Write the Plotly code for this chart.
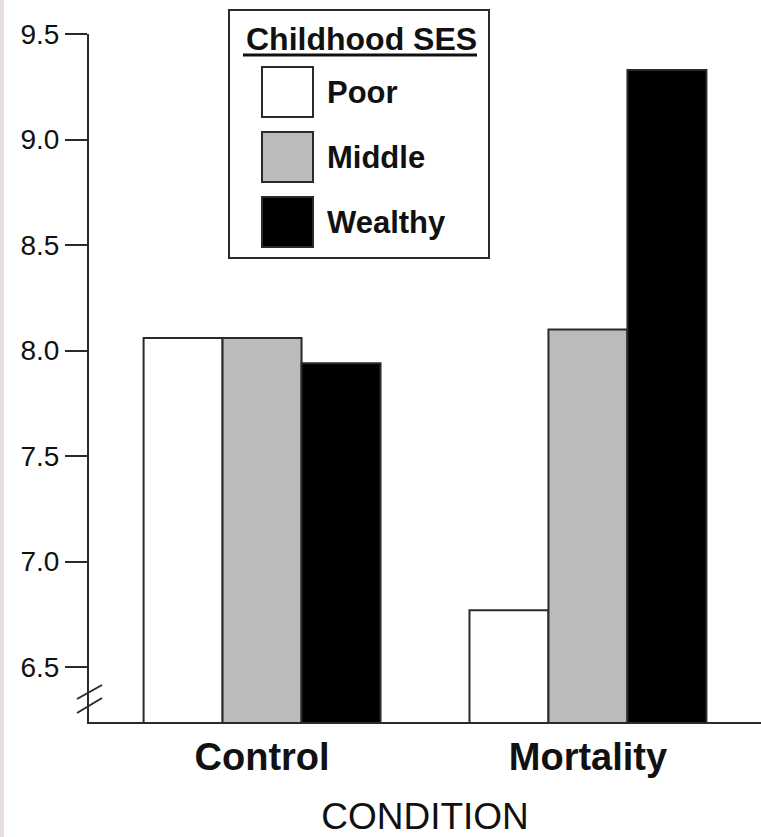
import plotly.graph_objects as go

# ---- data ----
conditions = ["Control", "Mortality"]
ses_levels = ["Poor", "Middle", "Wealthy"]
poor_vals = [8.06, 6.77]
middle_vals = [8.06, 8.10]
wealthy_vals = [7.94, 9.33]
y_ticks = [6.5, 7.0, 7.5, 8.0, 8.5, 9.0, 9.5]
legend_title = "Childhood SES"
x_title = "CONDITION"

# ---- style ----
bar_colors = ["#ffffff", "#bbbbbb", "#000000"]
line_col = "#2a2a2a"
FONT = "Liberation Sans, Arial, Helvetica, sans-serif"
W, H = 761, 837
ML, MR, MT, MB = 89, 0, 34, 115
PW, PH = W - ML - MR, H - MT - MB

def px2x(px):
    return (px - ML) / PW

def py2y(py):
    return (H - MB - py) / PH

fig = go.Figure()
series = [poor_vals, middle_vals, wealthy_vals]
for name, vals, col in zip(ses_levels, series, bar_colors):
    fig.add_trace(go.Bar(
        x=conditions, y=vals, name=name,
        marker=dict(color=col, line=dict(color=line_col, width=2)),
        showlegend=False,
    ))

shapes = []
annotations = []

# left-edge strip of the page
shapes.append(dict(type="rect", xref="paper", yref="paper",
                   x0=px2x(0), x1=px2x(4), y0=py2y(H), y1=py2y(0),
                   fillcolor="#e6dfdb", line=dict(width=0), layer="above"))

# axis break marks
for (a, b) in [((77, 699), (102, 685)), ((77, 713), (102, 698))]:
    shapes.append(dict(type="line", xref="paper", yref="paper",
                       x0=px2x(a[0]), y0=py2y(a[1]), x1=px2x(b[0]), y1=py2y(b[1]),
                       line=dict(color=line_col, width=2)))

# manual legend box
shapes.append(dict(type="rect", xref="paper", yref="paper",
                   x0=px2x(229), x1=px2x(489), y0=py2y(258), y1=py2y(10),
                   fillcolor="#ffffff", line=dict(color=line_col, width=2), layer="above"))
# title underline
shapes.append(dict(type="line", xref="paper", yref="paper",
                   x0=px2x(243), x1=px2x(477), y0=py2y(55), y1=py2y(55),
                   line=dict(color="#111111", width=3), layer="above"))
annotations.append(dict(text="<b>" + legend_title + "</b>", xref="paper", yref="paper",
                        x=px2x(361), y=py2y(39), xanchor="center", yanchor="middle",
                        showarrow=False, font=dict(family=FONT, size=32, color="#111111")))
for i, (name, col) in enumerate(zip(ses_levels, bar_colors)):
    top = 67 + i * 65
    shapes.append(dict(type="rect", xref="paper", yref="paper",
                       x0=px2x(262), x1=px2x(313), y0=py2y(top + 50), y1=py2y(top),
                       fillcolor=col, line=dict(color=line_col, width=2), layer="above"))
    annotations.append(dict(text="<b>" + name + "</b>", xref="paper", yref="paper",
                            x=px2x(325), y=py2y(top + 25), xanchor="left", yanchor="middle",
                            showarrow=False, font=dict(family=FONT, size=31, color="#111111")))

fig.update_layout(
    width=W, height=H,
    margin=dict(l=ML, r=MR, t=MT, b=MB, pad=0),
    paper_bgcolor="#ffffff", plot_bgcolor="#ffffff",
    barmode="group", bargap=0.273, bargroupgap=0,
    font=dict(family=FONT, color="#111111"),
    shapes=shapes, annotations=annotations,
    showlegend=False,
)
fig.update_xaxes(
    range=[-0.531, 1.531], showline=True, linecolor=line_col, linewidth=2,
    showgrid=False, zeroline=False, ticks="",
    tickfont=dict(family=FONT, size=38, weight="bold", color="#111111"),
    title=dict(text=x_title, font=dict(family=FONT, size=37, color="#111111"), standoff=33),
)
fig.update_yaxes(
    range=[6.24, 9.5], showline=True, linecolor=line_col, linewidth=2,
    showgrid=False, zeroline=False, ticks="outside", ticklen=22, tickwidth=2,
    tickcolor=line_col, tickvals=y_ticks, ticktext=["%.1f" % v for v in y_ticks],
    tickfont=dict(family=FONT, size=28, color="#111111"),
)

fig.write_html("out.html", config={"displayModeBar": False},
               post_script="document.body.style.margin='0';document.body.style.overflow='hidden';")
